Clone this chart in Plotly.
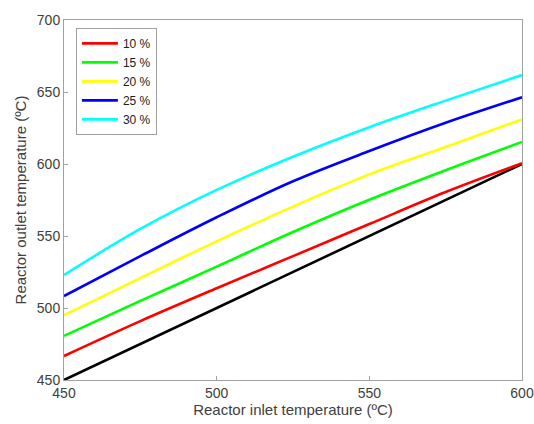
import plotly.graph_objects as go

# Reactor inlet temperature (ºC)
inlet_temp = [450, 475, 500, 525, 550, 575, 600]

# Reactor outlet temperature (ºC) for each case
outlet_10 = [466.7, 490.9, 513.7, 536.0, 558.3, 580.5, 600.5]
outlet_15 = [480.6, 504.9, 528.7, 552.8, 575.2, 595.7, 615.3]
outlet_20 = [495.0, 520.8, 546.3, 570.4, 592.8, 611.8, 631.0]
outlet_25 = [508.3, 536.0, 563.0, 588.0, 609.0, 628.6, 646.3]
outlet_30 = [522.9, 554.9, 582.0, 605.0, 625.5, 644.0, 661.8]

# Reference line: outlet equal to inlet
outlet_ref = [450, 475, 500, 525, 550, 575, 600]

series_labels = ["10 %", "15 %", "20 %", "25 %", "30 %"]
series_values = [outlet_10, outlet_15, outlet_20, outlet_25, outlet_30]
series_colors = ["#ff0000", "#00ff00", "#ffff00", "#0000ff", "#00ffff"]

fig = go.Figure()

fig.add_trace(go.Scatter(
    x=inlet_temp, y=outlet_ref, mode="lines",
    line=dict(color="#000000", width=2.6),
    showlegend=False,
))

for label, vals, color in zip(series_labels, series_values, series_colors):
    fig.add_trace(go.Scatter(
        x=inlet_temp, y=vals, mode="lines", name=label,
        line=dict(color=color, width=2.6, shape="spline", smoothing=1.0),
    ))

axis_common = dict(
    showline=True, linecolor="#a0a0a0", linewidth=1, mirror=True,
    ticks="inside", ticklen=4, tickcolor="#a0a0a0",
    showgrid=False, zeroline=False, automargin=False,
    tickfont=dict(family="Liberation Sans, Arial, sans-serif", size=14, color="#404040"),
)

fig.update_layout(
    width=534, height=424,
    margin=dict(l=64, r=12, t=20, b=44),
    paper_bgcolor="white", plot_bgcolor="white",
    font=dict(family="Liberation Sans, Arial, sans-serif", size=13, color="#404040"),
    xaxis=dict(
        range=[450, 600], tickvals=[450, 500, 550, 600],
        title=dict(text="Reactor inlet temperature (ºC)", standoff=4,
                   font=dict(size=15, color="#404040")),
        **axis_common,
    ),
    yaxis=dict(
        range=[450, 700], tickvals=[450, 500, 550, 600, 650, 700],
        title=dict(text="Reactor outlet temperature (ºC)", standoff=6,
                   font=dict(size=15, color="#404040")),
        **axis_common,
    ),
    legend=dict(
        x=0.026, y=0.978, xanchor="left", yanchor="top",
        bgcolor="white", bordercolor="#a0a0a0", borderwidth=1,
        font=dict(size=12, color="#202020"),
        tracegroupgap=0, itemwidth=36,
    ),
)

fig.write_html("out.html")
